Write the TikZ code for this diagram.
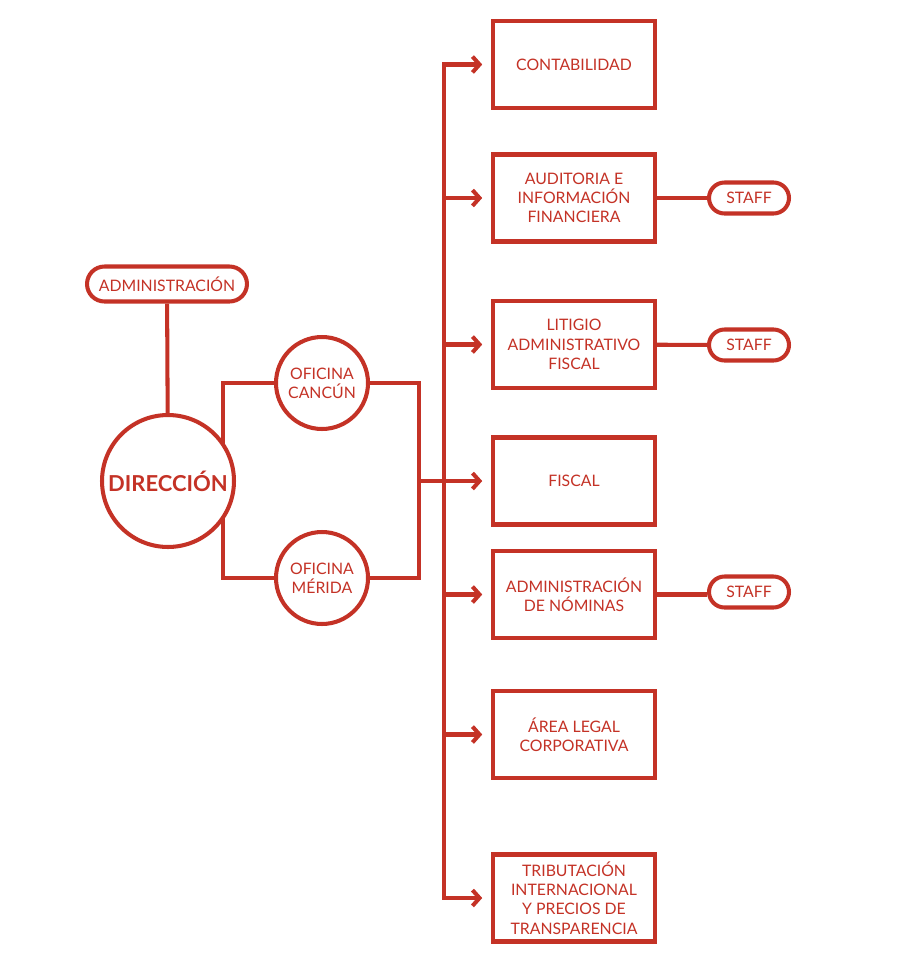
\documentclass[tikz,border=0pt]{standalone}
\usepackage{fontspec}
\setmainfont{Lato}
\usetikzlibrary{arrows.meta,backgrounds}
\definecolor{rojo}{RGB}{196,50,38}

\begin{document}
\begin{tikzpicture}[x=0.02cm,y=-0.02cm,>={Straight Barb[length=4pt,width=9pt]},
  line width=2.3pt, color=rojo,
  area/.style={draw,fill=white,minimum width=3.24cm,minimum height=1.74cm,align=center,
    font=\fontsize{9}{11}\selectfont,inner sep=0pt},
  pastilla/.style={draw,fill=white,rounded corners=0.35cm,minimum height=0.7cm,inner sep=0pt,
    font=\fontsize{9}{11}\selectfont},
  staff/.style={pastilla,minimum width=1.6cm,minimum height=0.62cm,rounded corners=0.31cm},
  oficina/.style={draw,fill=white,circle,minimum size=1.84cm,inner sep=0pt,align=center,
    font=\fontsize{9}{11}\selectfont},
  linea/.style={line width=2.3pt,draw=rojo}]
  \useasboundingbox (0,0) rectangle (900,980);

  % lado izquierdo
  \node[pastilla,minimum width=3.2cm] (admin) at (167,284) {ADMINISTRACIÓN};
  \node[draw,fill=white,circle,minimum size=2.64cm,inner sep=0pt,
    font=\fontsize{12.5}{14}\selectfont\bfseries] (dir) at (168,481) {DIRECCIÓN};
  \node[oficina] (can) at (322,383) {OFICINA\\CANCÚN};
  \node[oficina] (mer) at (322,578) {OFICINA\\MÉRIDA};
  \coordinate (lj) at (223,481);
  \coordinate (rj) at (419,481);
  \coordinate (sp) at (444,0);

  % areas
  \node[area] (cont) at (574,64.5) {CONTABILIDAD};
  \node[area] (aud) at (574,198) {AUDITORIA E\\INFORMACIÓN\\FINANCIERA};
  \node[area] (lit) at (574,344.5) {LITIGIO\\ADMINISTRATIVO\\FISCAL};
  \node[area] (fis) at (574,481) {FISCAL};
  \node[area] (nom) at (574,594.5) {ADMINISTRACIÓN\\DE NÓMINAS};
  \node[area] (leg) at (574,734.5) {ÁREA LEGAL\\CORPORATIVA};
  \node[area] (tri) at (574,898) {TRIBUTACIÓN\\INTERNACIONAL\\Y PRECIOS DE\\TRANSPARENCIA};

  % staff
  \node[staff] (st1) at (749,198) {STAFF};
  \node[staff] (st2) at (749,345) {STAFF};
  \node[staff] (st3) at (749,592) {STAFF};

  \begin{scope}[on background layer]
    \draw[linea] (admin) -- (dir);
    \draw[linea] (can.west) -| (lj) |- (mer.west);
    \draw[linea] (can.east) -| (rj) |- (mer.east);
    \draw[linea,->,shorten >=5pt] (rj) -- (fis.west);
    \draw[linea,<->,shorten <=5pt,shorten >=5pt] (cont.west) -| (sp |- tri.west) -- (tri.west);
    \draw[linea,->,shorten >=5pt] (sp |- aud.west) -- (aud.west);
    \draw[linea,->,shorten >=5pt] (sp |- lit.west) -- (lit.west);
    \draw[linea,->,shorten >=5pt] (sp |- nom.west) -- (nom.west);
    \draw[linea,->,shorten >=5pt] (sp |- leg.west) -- (leg.west);
    \draw[linea] (aud) -- (st1);
    \draw[linea] (lit) -- (st2);
    \draw[linea] (nom.east) -- (st3.west |- nom.east);
  \end{scope}
\end{tikzpicture}
\end{document}
